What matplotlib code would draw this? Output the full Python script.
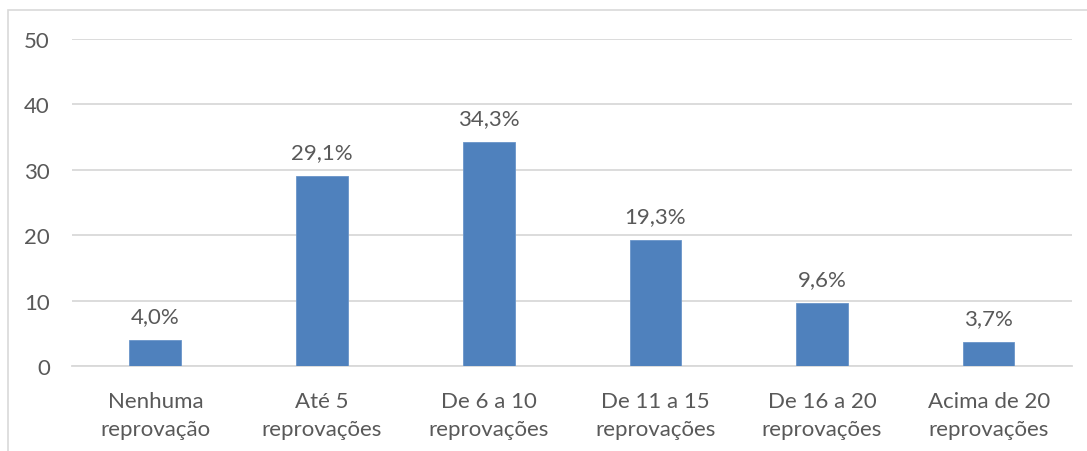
import matplotlib.pyplot as plt
from matplotlib.patches import Rectangle

categorias = ["Nenhuma\nreprovação", "Até 5\nreprovações", "De 6 a 10\nreprovações",
              "De 11 a 15\nreprovações", "De 16 a 20\nreprovações", "Acima de 20\nreprovações"]
percentuais = [4.0, 29.1, 34.3, 19.3, 9.6, 3.7]
rotulos = ["4,0%", "29,1%", "34,3%", "19,3%", "9,6%", "3,7%"]
yticks = [0, 10, 20, 30, 40, 50]

cinza = "#595959"
plt.rcParams['font.family'] = ['Lato', 'DejaVu Sans']

fig = plt.figure(figsize=(10.87, 4.52), dpi=100)
ax = fig.add_axes([72/1087, 1 - 367/452, 1000/1087, 327/452])

x = list(range(len(categorias)))
ax.bar(x, percentuais, width=0.31, color="#4F81BD", edgecolor="#6A95C9", linewidth=0.6, zorder=3)
for xi, v, r in zip(x, percentuais, rotulos):
    ax.annotate(r, (xi, v), xytext=(0, 10), textcoords="offset points",
                ha="center", va="bottom", fontsize=16, color=cinza)

ax.set_xlim(-0.5, len(categorias) - 0.5)
ax.set_ylim(0, 50)
ax.set_yticks(yticks)
ax.set_yticklabels([str(t) for t in yticks])
ax.set_xticks(x)
ax.set_xticklabels(categorias, linespacing=1.5)
ax.tick_params(axis="both", length=0, labelsize=16, labelcolor=cinza)
ax.tick_params(axis="y", pad=16)
ax.tick_params(axis="x", pad=18)
ax.grid(axis="y", color="#D9D9D9", linewidth=1.3, zorder=0)
for s in ["top", "right", "left"]:
    ax.spines[s].set_visible(False)
ax.spines["bottom"].set_color("#D9D9D9")
ax.spines["bottom"].set_linewidth(1.3)

# moldura externa do gráfico
fig.patches.append(Rectangle((8/1087, -0.1), 1.2, 1.1 - 11/452, transform=fig.transFigure,
                             fill=False, edgecolor="#D9D9D9", linewidth=1.2))

fig.savefig("out.png", dpi=100)
